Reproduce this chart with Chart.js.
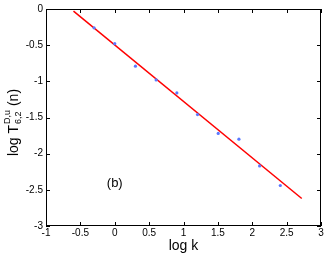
<!DOCTYPE html>
<html>
<head>
<meta charset="utf-8">
<script src="https://cdn.jsdelivr.net/npm/chart.js@4"></script>
<style>
  html, body { margin: 0; padding: 0; background: #fff; }
  #wrap { width: 327px; height: 255px; }
</style>
</head>
<body>
<div id="wrap"><canvas id="fitChart" width="327" height="255"></canvas></div>
<script>
// measured points (log k, log T)
const logK = [-0.301, 0, 0.301, 0.602, 0.903, 1.204, 1.505, 1.806, 2.107, 2.408];
const logT = [-0.26, -0.48, -0.79, -0.98, -1.16, -1.46, -1.72, -1.80, -2.17, -2.44];
// fitted line end points
const fitX = [-0.6, 2.72];
const fitY = [-0.03, -2.62];
const xTicks = [-1, -0.5, 0, 0.5, 1, 1.5, 2, 2.5, 3];
const yTicks = [0, -0.5, -1, -1.5, -2, -2.5, -3];
const panelLabel = '(b)';
const panelPos = [0.0, -2.41];

const FONT = '"Liberation Sans", Arial, sans-serif';

// matlab style box with inward ticks, panel label and y title
const boxPlugin = {
  id: 'boxPlugin',
  afterDraw(chart) {
    const { ctx, chartArea: a, scales: { x, y } } = chart;
    ctx.save();
    ctx.strokeStyle = '#000';
    ctx.lineWidth = 1;
    ctx.strokeRect(a.left + 0.5, a.top + 0.5, a.right - a.left - 1, a.bottom - a.top - 1);
    ctx.beginPath();
    const len = 4;
    xTicks.forEach(v => {
      const px = Math.round(x.getPixelForValue(v)) + 0.5;
      ctx.moveTo(px, a.bottom); ctx.lineTo(px, a.bottom - len);
      ctx.moveTo(px, a.top); ctx.lineTo(px, a.top + len);
    });
    yTicks.forEach(v => {
      const py = Math.round(y.getPixelForValue(v)) + 0.5;
      ctx.moveTo(a.left, py); ctx.lineTo(a.left + len, py);
      ctx.moveTo(a.right, py); ctx.lineTo(a.right - len, py);
    });
    ctx.stroke();

    ctx.fillStyle = '#000';
    ctx.font = '13px ' + FONT;
    ctx.textAlign = 'center';
    ctx.textBaseline = 'middle';
    ctx.fillText(panelLabel, x.getPixelForValue(panelPos[0]), y.getPixelForValue(panelPos[1]));

    // y axis title with super/subscript
    ctx.translate(18, 123);
    ctx.rotate(-Math.PI / 2);
    ctx.textAlign = 'left';
    ctx.textBaseline = 'alphabetic';
    const main = 'log T';
    const big = '14px ' + FONT, small = '9px ' + FONT;
    ctx.font = big;
    const w1 = ctx.measureText(main).width;
    ctx.font = small;
    const wSup = ctx.measureText('D,u').width;
    const wSub = ctx.measureText('6,2').width;
    ctx.font = big;
    const wEnd = ctx.measureText(' (n)').width;
    const total = w1 + Math.max(wSup, wSub) + wEnd;
    let px = -total / 2;
    ctx.fillText(main, px, 0);
    px += w1 + 1;
    ctx.font = small;
    ctx.fillText('D,u', px, -8);
    ctx.fillText('6,2', px, 3);
    px += Math.max(wSup, wSub);
    ctx.font = big;
    ctx.fillText(' (n)', px, 0);
    ctx.restore();
  }
};

new Chart(document.getElementById('fitChart').getContext('2d'), {
  type: 'scatter',
  data: {
    datasets: [
      {
        label: 'data',
        data: logK.map((v, i) => ({ x: v, y: logT[i] })),
        pointStyle: 'circle',
        pointRadius: 1.6,
        pointBackgroundColor: '#5b78ff',
        pointBorderWidth: 0,
        showLine: false
      },
      {
        label: 'fit',
        data: fitX.map((v, i) => ({ x: v, y: fitY[i] })),
        showLine: true,
        borderColor: '#ff0000',
        borderWidth: 1.5,
        pointRadius: 0,
        fill: false
      }
    ]
  },
  options: {
    responsive: false,
    animation: false,
    layout: { padding: { top: 8, right: 6, left: 0, bottom: 0 } },
    plugins: { legend: { display: false }, tooltip: { enabled: false } },
    scales: {
      x: {
        type: 'linear', min: -1, max: 3,
        afterBuildTicks: s => { s.ticks = xTicks.map(v => ({ value: v })); },
        afterFit: s => { s.height = 29; },
        grid: { display: false, drawTicks: false },
        border: { display: false },
        ticks: { color: '#000', font: { size: 10, family: FONT }, padding: 1, maxRotation: 0,
          callback: v => String(v) },
        title: { display: true, text: 'log k', color: '#000', font: { size: 14, family: FONT }, padding: { top: 0, bottom: 0 } }
      },
      y: {
        type: 'linear', min: -3, max: 0,
        afterBuildTicks: s => { s.ticks = yTicks.map(v => ({ value: v })); },
        afterFit: s => { s.width = 46; },
        grid: { display: false, drawTicks: false },
        border: { display: false },
        ticks: { color: '#000', font: { size: 10, family: FONT }, padding: 3,
          callback: v => String(v) }
      }
    }
  },
  plugins: [boxPlugin]
});
</script>
</body>
</html>
